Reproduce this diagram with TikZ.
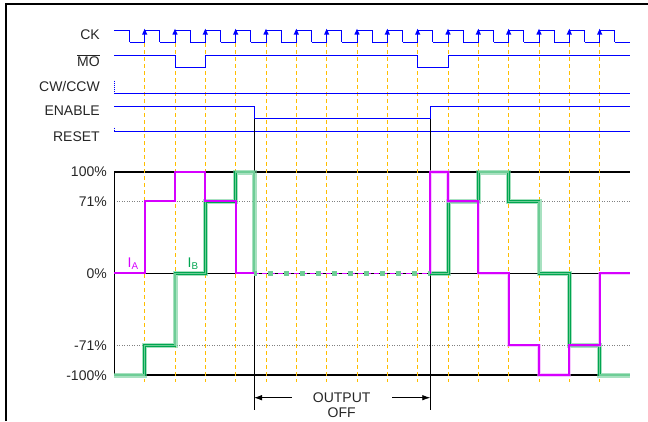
\documentclass[tikz,border=0pt]{standalone}
\usepackage{fontspec}
\setmainfont{Liberation Sans}
\usetikzlibrary{arrows.meta}
\definecolor{sigblue}{RGB}{0,0,255}
\definecolor{mag}{RGB}{214,0,255}
\definecolor{gdark}{RGB}{0,165,80}
\definecolor{glight}{RGB}{110,205,150}
\definecolor{clk}{RGB}{255,190,0}
\tikzset{
  sig/.style={draw=sigblue, line width=1pt},
  lbl/.style={anchor=east, inner sep=0pt, font=\fontsize{14}{16}\selectfont, text=black!85},
  pct/.style={anchor=east, inner sep=0pt, font=\fontsize{14}{16}\selectfont, text=black!85},
  guide/.style={draw=clk, line width=0.9pt, dash pattern=on 4pt off 3pt},
  axis/.style={draw=black, line width=1.3pt},
  thinaxis/.style={draw=black, line width=0.8pt},
  dotgrid/.style={draw=gray, line width=0.6pt, dash pattern=on 1pt off 1.5pt},
  iahalo/.style={draw=mag!35, line width=3.5pt, opacity=0.6},
  ia/.style={draw=mag, line width=2pt, line join=miter},
  ibhalo/.style={draw=glight, line width=5pt, opacity=0.6},
  ib/.style={draw=gdark, line width=0.6pt, double=glight, double distance=1.6pt},
}
\begin{document}
\begin{tikzpicture}[x=1pt,y=-1pt]
\useasboundingbox (0,0) rectangle (648,421);
% frame
\draw[line width=2pt] (6,421) -- (6,4) -- (648,4);
% labels
\node[lbl] (lck) at (100,34.7) {CK};
\node[lbl] (lmo) at (100,61) {$\overline{\hbox{MO}}$};
\node[lbl] (lcw) at (100,86.7) {CW/CCW};
\node[lbl] (len) at (100,110.7) {ENABLE};
\node[lbl] (lrs) at (100,136.7) {RESET};
\node[pct] (p100) at (107,172) {100\%};
\node[pct] (p71) at (107,202) {71\%};
\node[pct] (p0) at (107,273.3) {0\%};
\node[pct] (pm71) at (107,345.5) {-71\%};
\node[pct] (pm100) at (107,375.5) {-100\%};
% grid
\draw[dotgrid] (114.3,201.3) -- (630,201.3);
\draw[dotgrid] (114.3,345.3) -- (630,345.3);
\draw[axis] (114.3,172) -- (630,172);
\draw[axis] (114.3,273.3) -- (630,273.3);
\draw[axis] (114.3,375) -- (630,375);
\draw[thinaxis] (114.3,172) -- (114.3,375);
% clock guide lines
\foreach \k in {0,...,15} {
  \pgfmathsetmacro\e{144.667+30.333*\k}
  \draw[guide] (\e,43) -- (\e,382);
}
% CK
\draw[sig] (114.3,30) -- (129.5,30) -- (129.5,42.3);
\foreach \k in {0,...,15} {
  \pgfmathsetmacro\e{144.667+30.333*\k}
  \draw[sig] ({\e-15.167},42.3) -- (\e,42.3) -- (\e,30) -- ({\e+15.167},30) -- ({\e+15.167},42.3);
  \fill[sigblue] ({\e-2.6},34.5) -- ({\e+2.6},34.5) -- (\e,28.8) -- cycle;
}
\draw[sig] (614.8,42.3) -- (630,42.3);
% MO
\draw[sig] (114.3,55.3) -- (175,55.3) -- (175,67.7) -- (205.33,67.7) -- (205.33,55.3) -- (417.67,55.3) -- (417.67,67.7) -- (448,67.7) -- (448,55.3) -- (630,55.3);
% CW/CCW
\draw[sigblue, line width=0.8pt, dash pattern=on 1pt off 1pt] (114.3,80.7) -- (114.3,93.3);
\draw[sig] (114.3,93.3) -- (630,93.3);
% ENABLE
\draw[sig] (114.3,106) -- (254,106) -- (254,118.3) -- (430.3,118.3) -- (430.3,106) -- (630,106);
% RESET
\draw[sigblue, line width=0.8pt, dash pattern=on 1pt off 1pt] (114.3,127.7) -- (114.3,131.3);
\draw[sig] (114.3,131.3) -- (630,131.3);
% output off markers
\coordinate (vL1) at (254,119);
\coordinate (vL2) at (254,410);
\coordinate (vR1) at (430.3,119);
\coordinate (vR2) at (430.3,410);
\draw[thinaxis] (vL1) -- (vL2);
\draw[thinaxis] (vR1) -- (vR2);
% I_B
\def\ibpathA{(114.3,375) -- (144.67,375) -- (144.67,345.3) -- (175,345.3) -- (175,273.3) -- (205.33,273.3) -- (205.33,201.3) -- (235.67,201.3) -- (235.67,172) -- (254,172) -- (254,273.3)}
\def\ibpathB{(430.3,273.3) -- (448.5,273.3) -- (448.5,201.3) -- (478.33,201.3) -- (478.33,172) -- (508.67,172) -- (508.67,201.3) -- (539,201.3) -- (539,273.3) -- (569.33,273.3) -- (569.33,345.3) -- (599.67,345.3) -- (599.67,375) -- (630,375)}
\draw[ibhalo] \ibpathA;
\draw[ibhalo] \ibpathB;
\draw[ib] \ibpathA;
\draw[ib] \ibpathB;
% I_A
\def\iapathA{(114.3,273.3) -- (144.67,273.3) -- (144.67,201.3) -- (175,201.3) -- (175,172) -- (205.33,172) -- (205.33,201.3) -- (235.67,201.3) -- (235.67,273.3) -- (254,273.3)}
\def\iapathB{(430.3,273.3) -- (430.3,172) -- (448,172) -- (448,201.3) -- (478.33,201.3) -- (478.33,273.3) -- (508.67,273.3) -- (508.67,345.3) -- (539,345.3) -- (539,375) -- (569.33,375) -- (569.33,345.3) -- (599.67,345.3) -- (599.67,273.3) -- (630,273.3)}
\draw[iahalo] \iapathB;
\draw[ia] \iapathA;
\draw[ia] \iapathB;
% off period dashed
\draw[mag, line width=1.6pt, dash pattern=on 5pt off 3pt] (254,273.3) -- (430.3,273.3);
\draw[glight, line width=5pt, dash pattern=on 5pt off 11pt, dash phase=2.5pt] (254,273.3) -- (430.3,273.3);
% signal names
\node[inner sep=0pt, anchor=base west, text=mag, font=\fontsize{14}{16}\selectfont] (na) at (127.5,267.5) {I\textsubscript{A}};
\node[inner sep=0pt, anchor=base west, text=gdark, font=\fontsize{14}{16}\selectfont] (nb) at (187.5,267.5) {I\textsubscript{B}};
% output off
\node[inner sep=0pt, font=\fontsize{14}{16}\selectfont, text=black!85] (out) at (341.7,397.5) {OUTPUT};
\node[inner sep=0pt, font=\fontsize{14}{16}\selectfont, text=black!85] (off) at (341.7,413) {OFF};
\coordinate (aL) at (291.7,397.7);
\coordinate (aR) at (392,397.7);
\coordinate (tL) at (254,397.7);
\coordinate (tR) at (430.3,397.7);
\draw[line width=0.8pt, -{Latex[length=8pt,width=5.5pt]}] (aL) -- (tL);
\draw[line width=0.8pt, -{Latex[length=8pt,width=5.5pt]}] (aR) -- (tR);
\end{tikzpicture}
\end{document}
